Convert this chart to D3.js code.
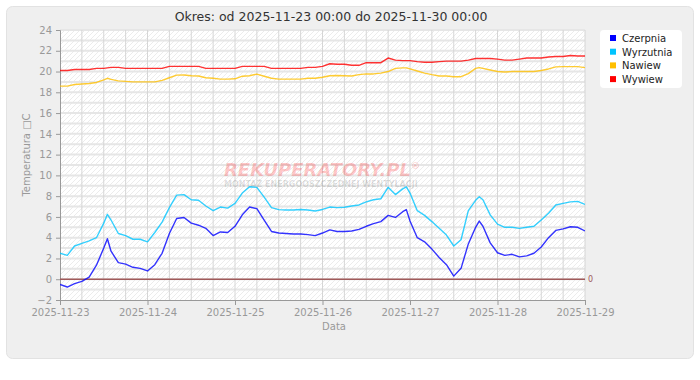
<!DOCTYPE html>
<html><head><meta charset="utf-8">
<script src="https://cdn.jsdelivr.net/npm/d3@7"></script>
<style>body{margin:0;background:#fff;}svg{display:block;font-family:"DejaVu Sans",Verdana,sans-serif;}</style>
</head><body><svg id="c" width="700" height="380"></svg>
<script>
// ---- data ----
const title = "Okres: od 2025-11-23 00:00 do 2025-11-30 00:00";
const seriesNames = ["Czerpnia", "Wyrzutnia", "Nawiew", "Wywiew"];
const seriesColors = ["#0000ff", "#00c4ff", "#ffbf00", "#ff0000"];
// hours from 2025-11-23 00:00
const hours = [0,2,4,6,8,10,12,13,14,16,18,20,22,24,26,28,30,32,34,36,38,40,42,44,46,48,50,52,54,56,58,60,62,64,66,68,70,72,74,76,78,80,82,84,86,88,90,92,94,95,96,98,100,102,104,106,108,110,112,114,115,116,118,120,122,124,126,128,130,132,134,136,138,140,142,144];
const czerpnia = [-0.5,-0.75,-0.42,-0.2,0.2,1.35,3.0,3.9,2.7,1.6,1.45,1.15,1.05,0.8,1.4,2.5,4.4,5.85,5.95,5.4,5.2,4.9,4.2,4.55,4.5,5.1,6.2,6.95,6.8,5.7,4.6,4.45,4.4,4.35,4.35,4.3,4.2,4.45,4.75,4.6,4.6,4.65,4.8,5.1,5.35,5.55,6.15,5.95,6.5,6.7,5.6,4.0,3.6,2.9,2.1,1.4,0.3,1.05,3.4,5.0,5.6,5.1,3.5,2.55,2.3,2.4,2.15,2.25,2.5,3.1,4.0,4.7,4.85,5.05,5.0,4.65];
const wyrzutnia = [2.5,2.3,3.2,3.45,3.7,4.0,5.4,6.25,5.7,4.4,4.2,3.85,3.85,3.6,4.5,5.5,6.9,8.1,8.15,7.65,7.6,7.05,6.6,6.95,6.85,7.3,8.3,8.9,8.85,7.9,6.9,6.7,6.67,6.67,6.72,6.67,6.57,6.72,6.95,6.9,6.93,7.05,7.15,7.45,7.65,7.75,8.85,8.15,8.7,8.9,8.3,6.6,6.15,5.55,4.9,4.25,3.2,3.8,6.6,7.6,7.95,7.65,6.2,5.3,5.0,5.0,4.9,5.0,5.1,5.7,6.35,7.15,7.3,7.45,7.5,7.2];
const nawiew = [18.6,18.6,18.75,18.8,18.85,18.95,19.2,19.35,19.25,19.1,19.05,19.0,19.0,19.0,19.0,19.15,19.4,19.65,19.67,19.6,19.57,19.4,19.35,19.27,19.27,19.3,19.55,19.6,19.75,19.55,19.35,19.27,19.27,19.27,19.27,19.35,19.35,19.45,19.6,19.62,19.6,19.57,19.7,19.77,19.77,19.85,20.0,20.3,20.35,20.35,20.25,20.05,19.85,19.7,19.57,19.57,19.5,19.5,19.8,20.3,20.38,20.3,20.15,20.0,19.95,20.0,20.0,20.0,20.0,20.1,20.25,20.45,20.47,20.47,20.47,20.38];
const wywiew = [20.1,20.1,20.2,20.2,20.2,20.3,20.3,20.35,20.4,20.4,20.3,20.3,20.3,20.3,20.3,20.3,20.5,20.5,20.5,20.5,20.5,20.3,20.3,20.3,20.3,20.3,20.5,20.5,20.5,20.5,20.3,20.3,20.3,20.3,20.3,20.4,20.4,20.5,20.75,20.7,20.7,20.6,20.6,20.85,20.85,20.85,21.3,21.1,21.05,21.05,21.05,20.95,20.9,20.9,20.95,21.0,21.0,21.0,21.1,21.25,21.25,21.25,21.25,21.2,21.1,21.1,21.2,21.3,21.3,21.3,21.4,21.45,21.45,21.55,21.5,21.5];
const yTicks = [-2,0,2,4,6,8,10,12,14,16,18,20,22,24];
const xTickLabels = ["2025-11-23","2025-11-24","2025-11-25","2025-11-26","2025-11-27","2025-11-28","2025-11-29"];
const yLabel = "Temperatura \u25A1C";
const xLabel = "Data";
const watermark = "REKUPERATORY.PL";
const watermarkSub = "MONTAŻ ENERGOOSZCZĘDNEJ WENTYLACJI";

// ---- chart ----
const svg = d3.select("#c");
const m = {l:60, r:585, t:30, b:300};
const start = Date.UTC(2025,10,23);
const toDate = h => new Date(start + h*3600000);
const x = d3.scaleUtc().domain([toDate(0), toDate(144)]).range([m.l, m.r]);
const y = d3.scaleLinear().domain([-2, 24]).range([m.b, m.t]);

// outer panel
svg.append("rect").attr("x",6.5).attr("y",6.5).attr("width",687).attr("height",352)
  .attr("rx",6).attr("fill","#efefef").attr("stroke","#e2e2e2");

// hatch pattern
const defs = svg.append("defs");
const pat = defs.append("pattern").attr("id","hatch").attr("patternUnits","userSpaceOnUse")
  .attr("width",5).attr("height",5);
pat.append("rect").attr("width",5).attr("height",5).attr("fill","#ffffff");
pat.append("path").attr("d","M-1,1 L1,-1 M0,5 L5,0 M4,6 L6,4").attr("stroke","#ececec").attr("stroke-width",1);
defs.append("clipPath").attr("id","clip").append("rect").attr("x",m.l).attr("y",m.t).attr("width",m.r-m.l).attr("height",m.b-m.t);

svg.append("rect").attr("x",m.l).attr("y",m.t).attr("width",m.r-m.l).attr("height",m.b-m.t).attr("fill","url(#hatch)");

// horizontal grid (every 1 unit)
const g = svg.append("g");
g.selectAll("line.h").data(d3.range(-1, 25)).join("line")
  .attr("x1",m.l).attr("x2",m.r).attr("y1",d=>y(d)).attr("y2",d=>y(d))
  .attr("stroke","#e6e6e6").attr("stroke-width",2);
// vertical grid (every 6h)
g.selectAll("line.v").data(d3.range(6,145,6)).join("line")
  .attr("x1",d=>x(toDate(d))).attr("x2",d=>x(toDate(d))).attr("y1",m.t).attr("y2",m.b)
  .attr("stroke","#d6d6d6").attr("stroke-width",1);

// axes
const yAxis = d3.axisLeft(y).tickValues(yTicks).tickSize(4).tickPadding(4).tickFormat(d3.format("d"));
const ya = svg.append("g").attr("transform",`translate(${m.l},0)`).call(yAxis);
const xAxis = d3.axisBottom(x).tickValues(xTickLabels.map((s,i)=>toDate(i*24))).tickSize(5).tickPadding(4)
  .tickFormat((d,i)=>xTickLabels[i]);
const xa = svg.append("g").attr("transform",`translate(0,${m.b})`).call(xAxis);
[ya, xa].forEach(a=>{
  a.select(".domain").attr("stroke","#999");
  a.selectAll(".tick line").attr("stroke","#999");
  a.selectAll(".tick text").attr("fill","#999").attr("font-size",10).attr("font-family","DejaVu Sans");
});

// zero line
svg.append("line").attr("x1",m.l).attr("x2",m.r).attr("y1",y(0)).attr("y2",y(0))
  .attr("stroke","#a05a5a").attr("stroke-width",1.5);
svg.append("text").attr("x",m.r+3).attr("y",y(0)+3).attr("font-size",8).attr("fill","#a05a5a").text("0");

// watermark
svg.append("text").attr("x",224).attr("y",176).attr("font-size",18).attr("font-weight","bold")
  .attr("font-style","italic").attr("fill","#ff0000").attr("fill-opacity",0.22).text(watermark)
  .append("tspan").attr("font-size",9).attr("dy",-7).text("®");
svg.append("text").attr("x",224).attr("y",187).attr("font-size",8).attr("font-weight","bold")
  .attr("fill","#000").attr("fill-opacity",0.13).text(watermarkSub);

// lines
const all = [czerpnia, wyrzutnia, nawiew, wywiew];
const line = d3.line().x((d,i)=>x(toDate(hours[i]))).y(d=>y(d));
svg.append("g").attr("clip-path","url(#clip)").selectAll("path").data(all).join("path")
  .attr("d",d=>line(d)).attr("fill","none").attr("stroke",(d,i)=>seriesColors[i])
  .attr("stroke-opacity",0.8).attr("stroke-width",1.4).attr("stroke-linejoin","round");

// title & axis labels
svg.append("text").attr("x",331).attr("y",21).attr("text-anchor","middle").attr("font-size",12.5)
  .attr("fill","#333").text(title);
svg.append("text").attr("x",334).attr("y",330).attr("text-anchor","middle").attr("font-size",10)
  .attr("fill","#999").text(xLabel);
svg.append("text").attr("transform","translate(30,155) rotate(-90)").attr("text-anchor","middle")
  .attr("font-size",10).attr("fill","#999").text(yLabel);

// legend
svg.append("rect").attr("x",600).attr("y",30).attr("width",82).attr("height",58).attr("rx",4)
  .attr("fill","#fff");
const lg = svg.append("g").selectAll("g").data(seriesNames).join("g")
  .attr("transform",(d,i)=>`translate(610,${38+i*13.7})`);
lg.append("rect").attr("x",0).attr("y",-3).attr("width",6).attr("height",6).attr("fill",(d,i)=>seriesColors[i]);
lg.append("text").attr("x",12).attr("y",4).attr("font-size",10).attr("fill","#222").text(d=>d);
</script></body></html>
